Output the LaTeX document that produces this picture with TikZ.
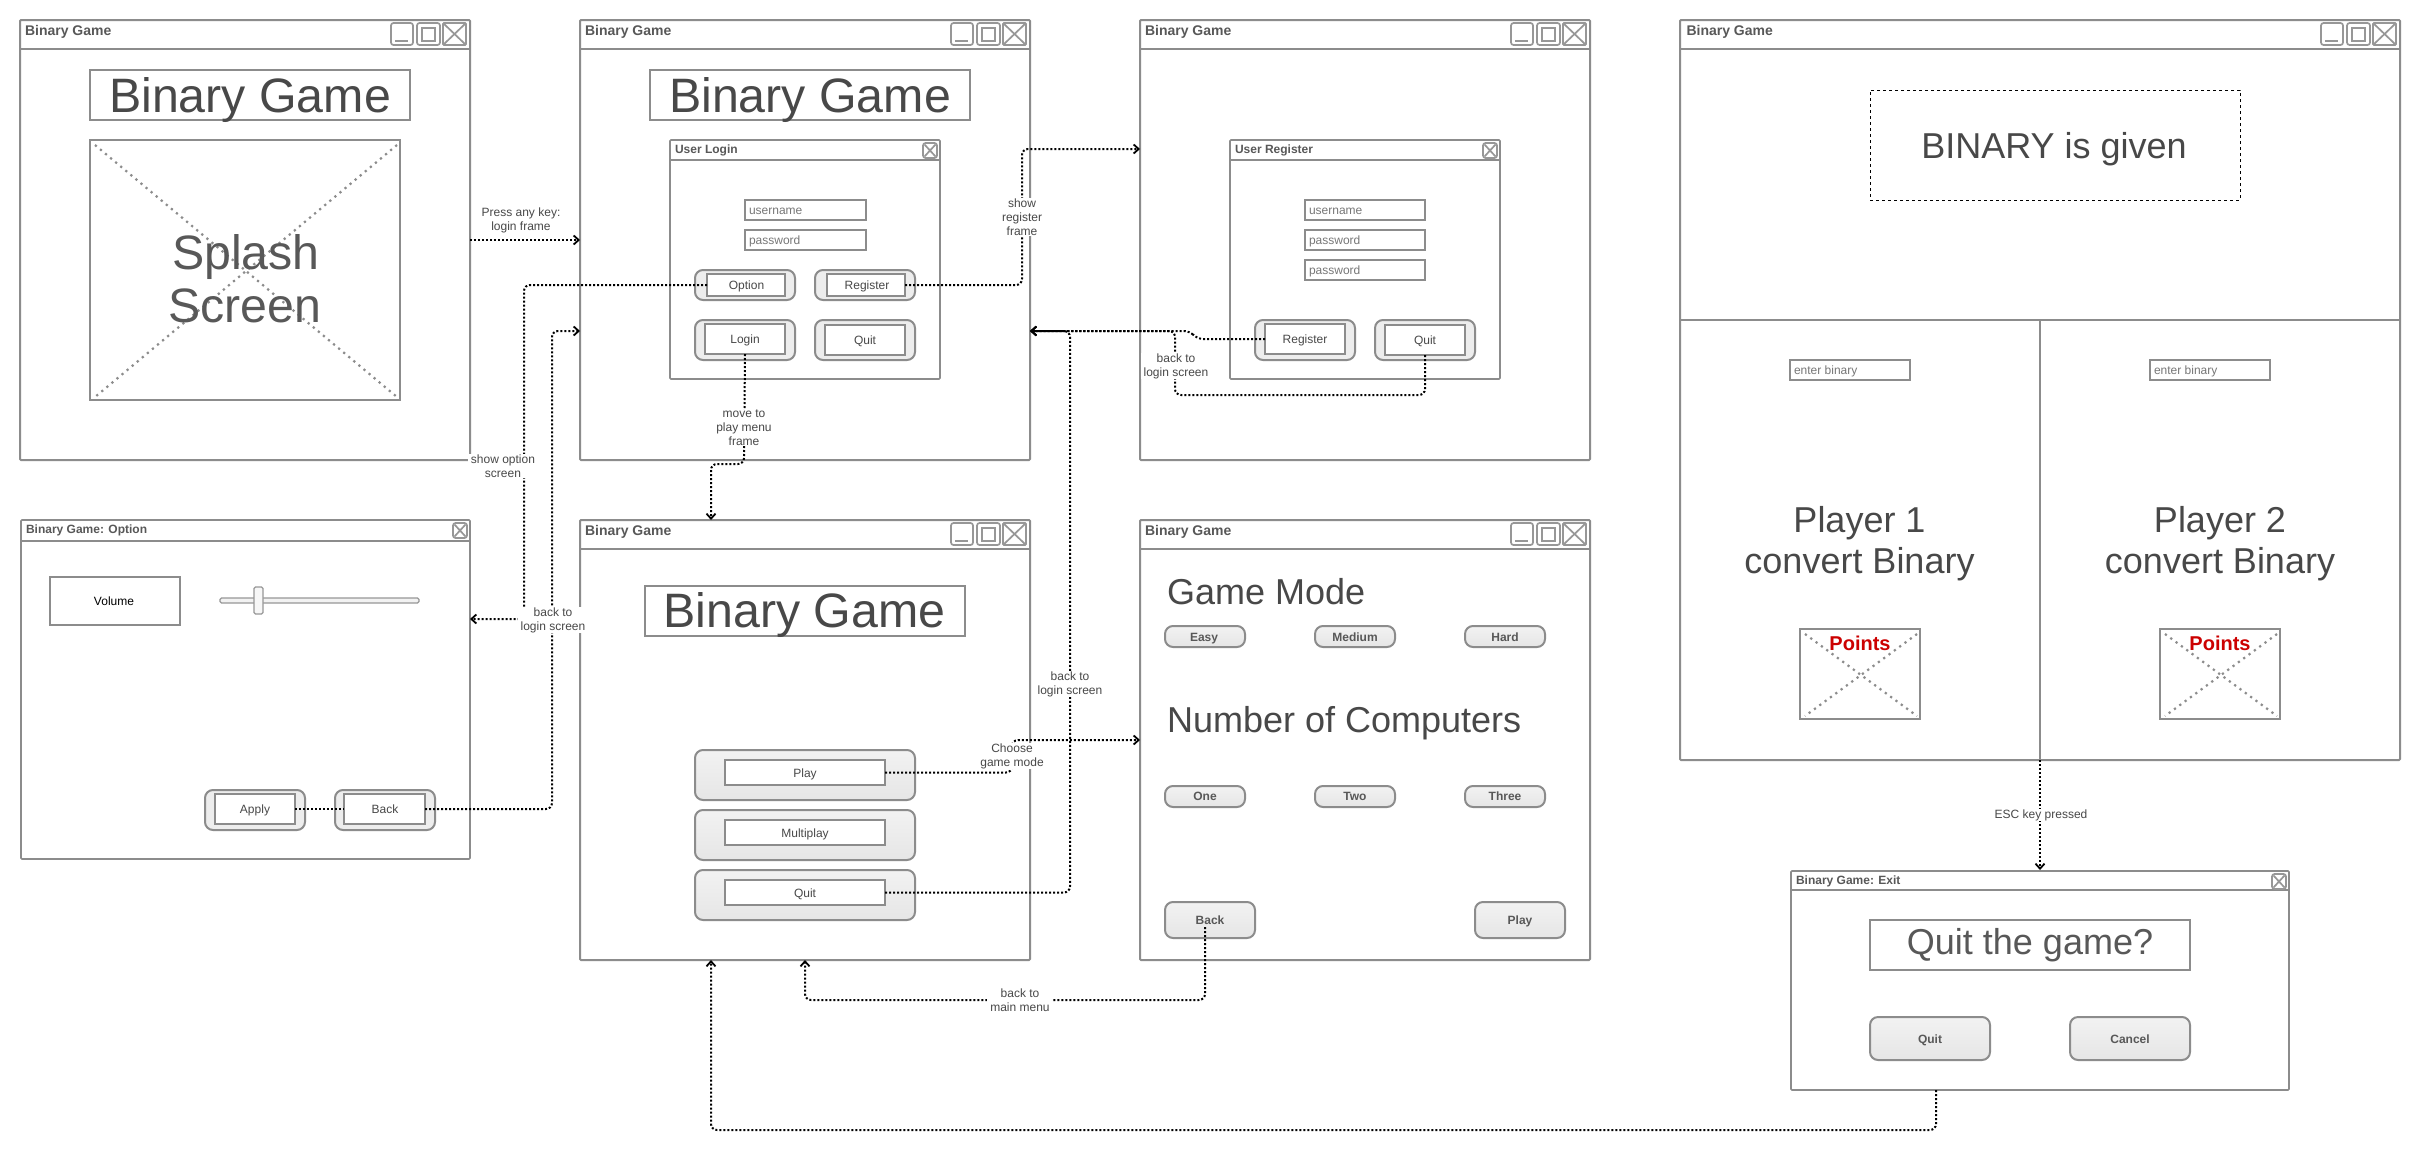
\documentclass[tikz,border=0pt]{standalone}
\usepackage{fontspec}
\setmainfont{Liberation Sans}
\usetikzlibrary{arrows.meta}
\definecolor{edge}{HTML}{8C8C8C}
\definecolor{inkA}{HTML}{484848}
\definecolor{inkB}{HTML}{585858}
\definecolor{inkC}{HTML}{777777}
\tikzset{
  frame/.style={draw=edge,line width=2pt,fill=white,inner sep=0pt,outer sep=0pt,rectangle,rounded corners=1pt},
  plainbox/.style={draw=edge,line width=2pt,fill=white,inner sep=0pt,outer sep=0pt,rectangle},
  thinframe/.style={frame,line width=1.7pt},
  softbtn/.style={draw=edge,line width=2pt,fill=black!7,inner sep=0pt,outer sep=0pt,rectangle,rounded corners=8pt},
  gradbtn/.style={draw=edge,line width=2pt,top color=black!5,bottom color=black!10,inner sep=0pt,outer sep=0pt,rectangle,rounded corners=8pt},
  pillbtn/.style={gradbtn,rounded corners=8pt},
  icon/.style={draw=edge!90,line width=1.7pt,fill=white,inner sep=0pt,outer sep=0pt,rectangle,rounded corners=2.5pt},
  dashedbox/.style={draw=black,line width=0.9pt,dash pattern=on 3pt off 3pt,inner sep=0pt,outer sep=0pt,rectangle},
  diag/.style={draw=edge,line width=2.2pt,dash pattern=on 2.2pt off 4.4pt},
  bar/.style={draw=edge,line width=2pt},
  txt/.style={inner sep=0pt,outer sep=0pt,anchor=base},
  tA/.style={txt,text=inkA,font=\fontsize{12}{14}\selectfont},
  tB/.style={txt,text=inkB,font=\fontsize{12}{14}\bfseries\selectfont},
  tC/.style={txt,text=inkC,font=\fontsize{12}{14}\selectfont},
  tT/.style={txt,text=inkB,font=\fontsize{14}{16}\bfseries\selectfont,anchor=base west},
  tD/.style={txt,text=inkB,font=\fontsize{12}{14}\bfseries\selectfont,anchor=base west},
  tL/.style={txt,text=inkA,font=\fontsize{36}{41}\selectfont},
  tH/.style={txt,text=inkA,font=\fontsize{48.3}{55}\selectfont},
  lab/.style={fill=white,text=inkA,align=center,font=\fontsize{12}{14}\selectfont,inner xsep=3pt,inner ysep=0.5pt,outer sep=0pt},
  conn/.style={draw=black,line width=2pt,dash pattern=on 2pt off 2pt,rounded corners=6pt},
  arr/.style={conn,-{Straight Barb[length=5pt,width=9pt,line width=1.8pt]}}
}
% \bx{style}{name}{x1}{y1}{x2}{y2}
\newcommand\bx[6]{\node[#1,minimum width={((#5)-(#3))*1pt},minimum height={((#6)-(#4))*1pt}] (#2) at ({((#3)+(#5))/2},{((#4)+(#6))/2}) {};}
% \win{name}{x1}{y1}{x2}{y2}{title}
\newcommand\win[6]{%
  \bx{frame}{#1}{#2}{#3}{#4}{#5}
  \draw[bar] ({#2},{#3+29}) -- ({#4},{#3+29});
  \node[tT] (#1-title) at ({#2+5},{#3+15}) {#6};
  \bx{icon}{#1-min}{#4-79}{#3+3}{#4-57}{#3+25}
  \draw[draw=edge!90,line width=1.7pt] ({#4-75},{#3+21}) -- ({#4-62},{#3+21});
  \bx{icon}{#1-max}{#4-53}{#3+3}{#4-30}{#3+25}
  \bx{icon,rounded corners=0pt}{#1-maxin}{#4-48}{#3+8}{#4-35}{#3+21}
  \bx{icon,rounded corners=1pt}{#1-cls}{#4-27}{#3+3}{#4-4}{#3+25}
  \draw[draw=edge!90,line width=1.7pt] (#1-cls.north west) -- (#1-cls.south east) (#1-cls.north east) -- (#1-cls.south west);
}
% \dlg{name}{x1}{y1}{x2}{y2}{barheight}{title}
\newcommand\dlg[7]{%
  \bx{thinframe}{#1}{#2}{#3}{#4}{#5}
  \draw[bar,line width=1.7pt] ({#2},{#3+#6}) -- ({#4},{#3+#6});
  \node[tD] (#1-title) at ({#2+5},{#3+13}) {#7};
  \bx{icon}{#1-cls}{#4-17}{#3+3}{#4-3}{#3+18}
  \draw[draw=edge!90,line width=1.7pt] ([shift={(1.5,1.5)}]#1-cls.north west) -- ([shift={(-1.5,-1.5)}]#1-cls.south east) ([shift={(-1.5,1.5)}]#1-cls.north east) -- ([shift={(1.5,-1.5)}]#1-cls.south west);
}
% \img{name}{x1}{y1}{x2}{y2}
\newcommand\img[5]{%
  \bx{plainbox}{#1}{#2}{#3}{#4}{#5}
  \draw[diag] ([shift={(5,5)}]#1.north west) -- ([shift={(-3,-3)}]#1.south east);
  \draw[diag] ([shift={(-3,5)}]#1.north east) -- ([shift={(5,-3)}]#1.south west);
}
% \btn{name}{outer x1 y1 x2 y2}{inner x1 y1 x2 y2}
\newcommand\btn[9]{%
  \bx{softbtn}{#1}{#2}{#3}{#4}{#5}
  \bx{plainbox}{#1-in}{#6}{#7}{#8}{#9}
}
\newcommand\gbtn[9]{%
  \bx{gradbtn}{#1}{#2}{#3}{#4}{#5}
  \bx{plainbox}{#1-in}{#6}{#7}{#8}{#9}
}
\begin{document}
\begin{tikzpicture}[x=1pt,y=-1pt]
\useasboundingbox (0,0) rectangle (2420,1154);
\fill[white] (0,0) rectangle (2420,1154);

% ---------- splash window
\win{w1}{20}{20}{470}{460}{Binary Game}
\bx{plainbox}{w1-tbox}{90}{70}{410}{120}
\node[tH] (w1-ttext) at (250,112) {Binary Game};
\img{w1-img}{90}{140}{400}{400}
\node[tH,text=inkB] (w1-s1) at (246,269) {Splash};
\node[tH,text=inkB] (w1-s2) at (245,322) {Screen};

% ---------- login window
\win{w2}{580}{20}{1030}{460}{Binary Game}
\bx{plainbox}{w2-tbox}{650}{70}{970}{120}
\node[tH] (w2-ttext) at (810,112) {Binary Game};
\dlg{d2}{670}{140}{940}{379}{20}{User Login}
\bx{plainbox}{d2-u}{745}{200}{866}{220}
\node[tC,anchor=base west] (d2-ut) at (749,214) {username};
\bx{plainbox}{d2-p}{745}{230}{866}{250}
\node[tC,anchor=base west] (d2-pt) at (749,244) {password};
\btn{opt}{695}{270}{795}{300}{707}{274}{785}{296}
\node[tA] (opt-t) at (746.5,289) {Option};
\btn{reg}{815}{270}{915}{300}{827}{274}{905}{296}
\node[tA] (reg-t) at (867,289) {Register};
\btn{log}{695}{320}{795}{360}{705}{324}{785}{354}
\node[tA] (log-t) at (745,343) {Login};
\btn{qt2}{815}{320}{915}{360}{825}{325}{905}{355}
\node[tA] (qt2-t) at (865,344) {Quit};

% ---------- register window
\win{w3}{1140}{20}{1590}{460}{Binary Game}
\dlg{d3}{1230}{140}{1500}{379}{20}{User Register}
\bx{plainbox}{d3-u}{1305}{200}{1425}{220}
\node[tC,anchor=base west] (d3-ut) at (1309,214) {username};
\bx{plainbox}{d3-p}{1305}{230}{1425}{250}
\node[tC,anchor=base west] (d3-pt) at (1309,244) {password};
\bx{plainbox}{d3-q}{1305}{260}{1425}{280}
\node[tC,anchor=base west] (d3-qt) at (1309,274) {password};
\btn{rg3}{1255}{320}{1355}{360}{1265}{324}{1345}{354}
\node[tA] (rg3-t) at (1305,343) {Register};
\btn{qt3}{1375}{320}{1475}{360}{1385}{325}{1465}{355}
\node[tA] (qt3-t) at (1425,344) {Quit};

% ---------- option window
\dlg{d1}{21}{520}{470}{859}{21}{Binary Game: Option}
\bx{plainbox}{vol}{50}{577}{180}{625}
\node[txt,font=\fontsize{12}{14}\selectfont] (vol-t) at (114,605) {Volume};
\bx{icon,line width=1.3pt,rounded corners=1.5pt,fill=black!5}{trk}{220}{598}{419}{603}
\bx{icon,line width=1.3pt,rounded corners=1.5pt,fill=black!3}{thb}{254}{587}{263}{614}
\btn{apl}{205}{790}{305}{830}{215}{794}{295}{824}
\node[tA] (apl-t) at (255,813) {Apply};
\btn{bck}{335}{790}{435}{830}{344}{794}{425}{824}
\node[tA] (bck-t) at (385,813) {Back};

% ---------- menu window
\win{w4}{580}{520}{1030}{960}{Binary Game}
\bx{plainbox}{w4-tbox}{645}{586}{965}{636}
\node[tH] (w4-ttext) at (804.5,627) {Binary Game};
\gbtn{ply}{695}{750}{915}{800}{725}{760}{885}{785}
\node[tA] (ply-t) at (805,777) {Play};
\gbtn{mul}{695}{810}{915}{860}{725}{820}{885}{845}
\node[tA] (mul-t) at (805,837) {Multiplay};
\gbtn{qt4}{695}{870}{915}{920}{725}{880}{885}{905}
\node[tA] (qt4-t) at (805,897) {Quit};

% ---------- mode window
\win{w5}{1140}{520}{1590}{960}{Binary Game}
\node[tL,anchor=base west] (gm) at (1167,604) {Game Mode};
\node[tL,anchor=base west] (nc) at (1167,732) {Number of Computers};
\bx{pillbtn}{easy}{1165}{626}{1245}{647}
\node[tB] (easy-t) at (1204,641) {Easy};
\bx{pillbtn}{med}{1315}{626}{1395}{647}
\node[tB] (med-t) at (1355,641) {Medium};
\bx{pillbtn}{hard}{1465}{626}{1545}{647}
\node[tB] (hard-t) at (1505,641) {Hard};
\bx{pillbtn}{one}{1165}{786}{1245}{807}
\node[tB] (one-t) at (1205,800.5) {One};
\bx{pillbtn}{two}{1315}{786}{1395}{807}
\node[tB] (two-t) at (1355,800.5) {Two};
\bx{pillbtn}{three}{1465}{786}{1545}{807}
\node[tB] (three-t) at (1505,800.5) {Three};
\bx{gradbtn}{bk5}{1165}{902}{1255}{938}
\node[tB] (bk5-t) at (1210,924) {Back};
\bx{gradbtn}{pl5}{1475}{902}{1565}{938}
\node[tB] (pl5-t) at (1520,924) {Play};

% ---------- game window
\win{w6}{1680}{20}{2400}{760}{\hspace{1.5pt}Binary Game}
\draw[bar] (w6.west |- 0,320) -- (w6.east |- 0,320);
\draw[bar] (2040,320) -- (w6.south);
\bx{dashedbox}{given}{1870}{90}{2240}{200}
\node[tL] (given-t) at (2054,158) {BINARY is given};
\bx{plainbox}{in1}{1790}{360}{1910}{380}
\node[tC,anchor=base west] (in1-t) at (1794,374.5) {enter binary};
\bx{plainbox}{in2}{2150}{360}{2270}{380}
\node[tC,anchor=base west] (in2-t) at (2154,374.5) {enter binary};
\node[tL] (p1a) at (1859.5,532) {Player 1};
\node[tL] (p1b) at (1859.5,573) {convert Binary};
\node[tL] (p2a) at (2220,532) {Player 2};
\node[tL] (p2b) at (2220,573) {convert Binary};
\img{pt1}{1800}{629}{1920}{719}
\node[txt,text=red!80!black,font=\fontsize{20}{23}\bfseries\selectfont] (pt1-t) at (1860,650) {Points};
\img{pt2}{2160}{629}{2280}{719}
\node[txt,text=red!80!black,font=\fontsize{20}{23}\bfseries\selectfont] (pt2-t) at (2220,650) {Points};

% ---------- exit dialog
\dlg{d6}{1791}{871}{2289}{1090}{19}{Binary Game: Exit}
\bx{plainbox}{qg}{1870}{920}{2190}{970}
\node[tL,text=inkB] (qg-t) at (2030,954) {Quit the game?};
\bx{gradbtn}{qq}{1870}{1017}{1990}{1060}
\node[tB] (qq-t) at (1930,1043) {Quit};
\bx{gradbtn}{cc}{2070}{1017}{2190}{1060}
\node[tB] (cc-t) at (2130,1043) {Cancel};

% ---------- connector ends
\coordinate (e-login1) at (580,240);
\coordinate (e-login2) at (580,331);
\coordinate (e-regw) at (1140,149);
\coordinate (e-back) at (1030,331);
\coordinate (e-opt) at (470,619);
\coordinate (e-menu) at (711,520);
\coordinate (e-mode) at (1140,740);
\coordinate (e-main) at (805,960);
\coordinate (e-main2) at (711,960);
\coordinate (e-exit) at (2040,870);
\coordinate (s-splash) at (470,240);
\coordinate (s-bk5) at (1205,927);
\coordinate (s-exit) at (1936,1090);

% ---------- connectors
\draw[arr] (s-splash) -- (e-login1);
\draw[arr] (opt-in.west) -- (524,285) -- (524,619) -- (e-opt);
\draw[conn] (apl-in.east) -- (bck-in.west);
\draw[arr] (bck-in.east) -- (552,809) -- (552,331) -- (e-login2);
\draw[arr] (reg-in.east) -- (1022,285) -- (1022,149) -- (e-regw);
\draw[arr] (log-in.south) -- (744,464) -- (711,464) -- (e-menu);
\draw[arr] (rg3-in.west) -- (1197,339) -- (1190,331) -- (e-back);
\draw[arr] (qt3-in.south) -- (1425,395) -- (1175,395) -- (1175,331) -- (e-back);
\draw[arr] (qt4-in.east) -- (1070,892.5) -- (1070,331) -- (e-back);
\draw[arr] (ply-in.east) -- (1012,772.5) -- (1012,740) -- (e-mode);
\draw[arr] (s-bk5) -- (1205,1000) -- (805,1000) -- (e-main);
\draw[arr] (s-exit) -- (1936,1130) -- (711,1130) -- (e-main2);
\draw[arr] (w6.south) -- (e-exit);

% ---------- labels
\node[lab] (l1) at (521,220) {Press any key:\\login frame};
\node[lab] (l2) at (503,466) {show option\\screen};
\node[lab] (l3) at (553,620) {back to\\login screen};
\node[lab] (l4) at (1022,217) {show\\register\\frame};
\node[lab] (l5) at (744,428) {move to\\play menu\\frame};
\node[lab] (l6) at (1012,756) {Choose\\game mode};
\node[lab] (l7) at (1070,684) {back to\\login screen};
\node[lab] (l8) at (1176,366) {back to\\login screen};
\node[lab] (l9) at (1020,1000) {back to\\main menu};
\node[lab] (l10) at (2041,815) {ESC key pressed};
\end{tikzpicture}
\end{document}
